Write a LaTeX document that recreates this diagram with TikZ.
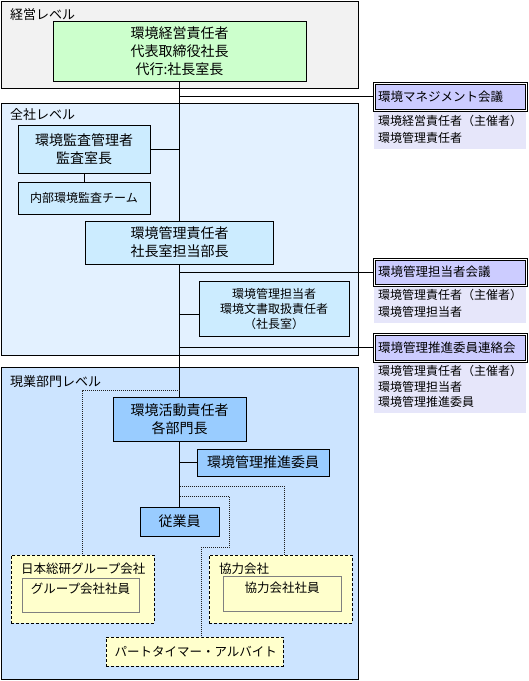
\documentclass[tikz,border=0pt]{standalone}
\usepackage{fontspec}
\newfontfamily\jp{Noto Sans CJK JP}
\usetikzlibrary{calc}
\definecolor{lvltop}{HTML}{F2F2F2}
\definecolor{lvlco}{HTML}{E3F1FF}
\definecolor{lvlwk}{HTML}{CCE4FF}
\definecolor{greenbox}{HTML}{CCFFCC}
\definecolor{lightblue}{HTML}{CCECFF}
\definecolor{midblue}{HTML}{99CCFF}
\definecolor{meetfill}{HTML}{CCCCFF}
\definecolor{meetarea}{HTML}{E6E6FA}
\definecolor{yel}{HTML}{FFFFCC}
\definecolor{dotgray}{HTML}{202020}
\definecolor{innergray}{HTML}{808080}
\begin{document}
\begin{tikzpicture}[x=1pt,y=-1pt,
  every node/.style={font=\jp},
  bigtext/.style={font=\jp\fontsize{14}{18}\selectfont},
  smalltext/.style={font=\jp\fontsize{12}{15}\selectfont},
  lvltext/.style={font=\jp\fontsize{13}{16}\selectfont, anchor=west, inner sep=0},
  lvlbox/.style={draw=black, line width=1pt, fill=#1, inner sep=0},
  orgbox/.style={draw=black, line width=1pt, fill=#1, align=center, inner sep=0},
  meetbox/.style={draw=black, line width=1pt, double=white, double distance=1pt,
    fill=meetfill, align=left, inner xsep=4pt, inner ysep=0,
    font=\jp\fontsize{12.5}{15}\selectfont},
  meetarea/.style={fill=meetarea, align=left, inner xsep=4pt, inner ysep=0,
    font=\jp\fontsize{12}{17}\selectfont},
  ybox/.style={draw=black, line width=0.9pt, dash pattern=on 3pt off 2pt, fill=yel, inner sep=0},
  yinner/.style={draw=innergray, line width=1pt, fill=yel, inner sep=0},
  ytext/.style={font=\jp\fontsize{12.5}{15}\selectfont, inner sep=0},
  conn/.style={draw=black, line width=1pt},
  dotconn/.style={draw=dotgray, line width=1pt, dash pattern=on 1pt off 1pt},
]
\useasboundingbox (0,0) rectangle (529,681);
\fill[white] (0,0) rectangle (529,681);

% ---- level boxes
\node[lvlbox=lvltop, minimum width=357pt, minimum height=87pt] (lv1) at (179.5,44.5) {};
\node[lvltext] (lv1t) at (10,15) {経営レベル};
\node[lvlbox=lvlco, minimum width=357pt, minimum height=252pt] (lv2) at (179.5,229) {};
\node[lvltext] (lv2t) at (10,115) {全社レベル};
\node[lvlbox=lvlwk, minimum width=357pt, minimum height=312pt] (lv3) at (179.5,523) {};
\node[lvltext] (lv3t) at (10,382) {現業部門レベル};

% ---- organisation boxes
\node[orgbox=greenbox, bigtext, minimum width=253pt, minimum height=60pt] (top) at (179.5,51)
  {環境経営責任者\\代表取締役社長\\代行:社長室長};
\node[orgbox=lightblue, bigtext, minimum width=132pt, minimum height=48pt] (audit) at (84,149)
  {環境監査管理者\\監査室長};
\node[orgbox=lightblue, smalltext, minimum width=132pt, minimum height=32pt] (team) at (84,198)
  {内部環境監査チーム};
\node[orgbox=lightblue, bigtext, minimum width=188pt, minimum height=43pt] (mgmt) at (179.5,242.5)
  {環境管理責任者\\社長室担当部長};
\node[orgbox=lightblue, smalltext, minimum width=150pt, minimum height=55pt] (staff) at (274,308.5)
  {環境管理担当者\\環境文書取扱責任者\\（社長室）};
\node[orgbox=midblue, bigtext, minimum width=133pt, minimum height=44pt] (act) at (179.5,419)
  {環境活動責任者\\各部門長};
\node[orgbox=midblue, bigtext, minimum width=132pt, minimum height=27pt] (promo) at (263,462.5)
  {環境管理推進委員};
\node[orgbox=midblue, bigtext, minimum width=79pt, minimum height=29pt] (emp) at (179.5,521.5)
  {従業員};

% ---- yellow boxes
\node[ybox, minimum width=143pt, minimum height=68pt] (grp) at (82.5,589) {};
\node[ytext, anchor=west] (grpt) at (21,569) {日本総研グループ会社};
\node[yinner, minimum width=117pt, minimum height=34pt] (grpin) at (80.5,595) {};
\node[ytext] (grpint) at (80.5,589) {グループ会社社員};
\node[ybox, minimum width=143pt, minimum height=68pt] (kyo) at (280.5,589) {};
\node[ytext, anchor=west] (kyot) at (219,569) {協力会社};
\node[yinner, minimum width=118pt, minimum height=35pt] (kyoin) at (282,593.5) {};
\node[ytext] (kyoint) at (282,588) {協力会社社員};
\node[ybox, ytext, minimum width=177pt, minimum height=29pt, text width=160pt, inner xsep=8.5pt, align=left] (part) at (194.5,651.5)
  {パートタイマー・アルバイト};

% ---- meetings
\node[meetarea, minimum width=152pt, minimum height=40pt, text width=144pt, anchor=north] (t1) at (450,109)
  {環境経営責任者（主催者）\\環境管理責任者};
\node[meetbox, minimum width=152pt, minimum height=27pt, text width=144pt] (m1) at (450,96.5)
  {環境マネジメント会議};
\node[meetarea, minimum width=152pt, minimum height=39pt, text width=144pt, anchor=north] (t2) at (450,284)
  {環境管理責任者（主催者）\\環境管理担当者};
\node[meetbox, minimum width=152pt, minimum height=26pt, text width=144pt] (m2) at (450,272)
  {環境管理担当者会議};
\node[meetarea, font=\jp\fontsize{12}{15.5}\selectfont, minimum width=152pt, minimum height=53pt, text width=144pt, anchor=north] (t3) at (450,360)
  {環境管理責任者（主催者）\\環境管理担当者\\環境管理推進委員};
\node[meetbox, minimum width=152pt, minimum height=27pt, text width=144pt] (m3) at (450,347.5)
  {環境管理推進委員連絡会};

% ---- junction coordinates
\coordinate (j1) at (179.5,390);
\coordinate (j2) at (179.5,486);
\coordinate (j3) at (179.5,496);
\coordinate (j3b) at (229,547);

% ---- solid connectors
\draw[conn] (top.south) -- (mgmt.north);
\draw[conn] (mgmt.south) -- (act.north);
\draw[conn] (act.south) -- (emp.north);
\draw[conn] (m1.west -| top.south) -- (m1.west);
\draw[conn] (audit.east) -- (audit.east -| top.south);
\draw[conn] (audit.south) -- (team.north);
\draw[conn] (m2.west -| top.south) -- (m2.west);
\draw[conn] ([yshift=-5.5pt]staff.west -| top.south) -- ([yshift=-5.5pt]staff.west);
\draw[conn] (m3.west -| top.south) -- (m3.west);
\draw[conn] (promo.west -| top.south) -- (promo.west);

% ---- dotted connectors
\draw[dotconn] (j1) -| (grp.north);
\draw[dotconn] (j2) -| ([xshift=3.5pt]kyo.north);
\draw[dotconn] (j3) -| (j3b) -| ([xshift=6.5pt]part.north);
\end{tikzpicture}
\end{document}
